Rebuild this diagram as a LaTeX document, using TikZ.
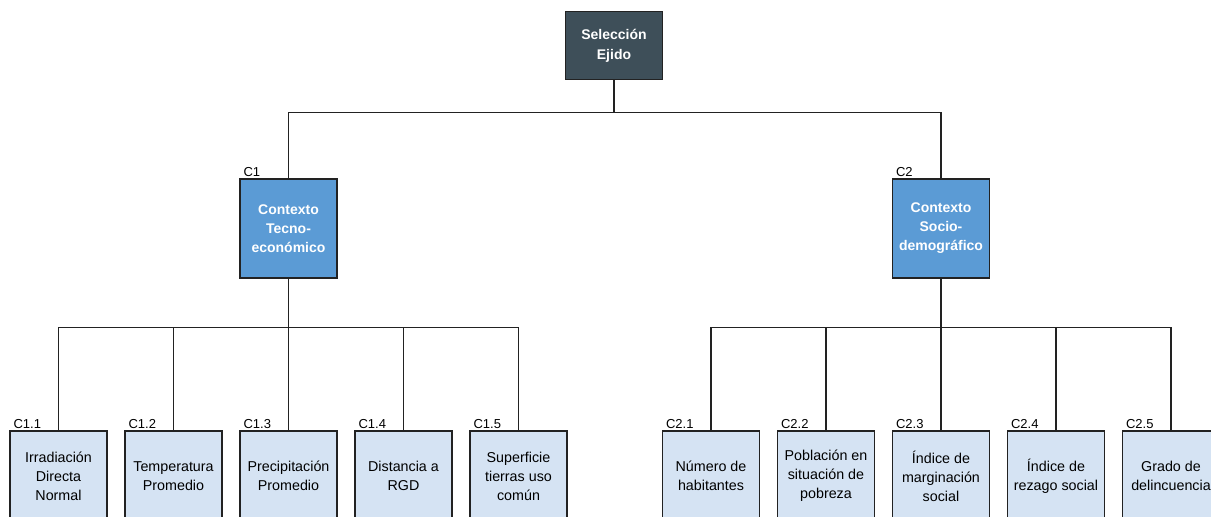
\documentclass[tikz,border=0pt]{standalone}
\usepackage{fontspec}
\setmainfont{Liberation Sans}
\usetikzlibrary{calc}
\definecolor{darkbox}{HTML}{3E4F59}
\definecolor{midbox}{HTML}{5B9BD5}
\definecolor{leafbox}{HTML}{D5E3F3}
\definecolor{linec}{HTML}{222222}
\tikzset{
  boxbase/.style={draw=linec, line width=1.3pt, align=center, inner sep=0pt, minimum width=97pt},
  rootbox/.style={boxbase, fill=darkbox, text=white, font=\fontsize{14}{20}\selectfont\bfseries, minimum height=68pt},
  midbx/.style={boxbase, fill=midbox, text=white, font=\fontsize{14}{19}\selectfont\bfseries, minimum height=99pt},
  leafbx/.style={boxbase, fill=leafbox, text=black, font=\fontsize{14.3}{19}\selectfont, minimum height=90pt},
  codelbl/.style={anchor=south west, inner sep=0pt, font=\fontsize{13}{15}\selectfont, text=black},
  conn/.style={draw=linec, line width=1.1pt}
}
\begin{document}
\begin{tikzpicture}[x=1pt,y=-1pt]
\useasboundingbox (0,0) rectangle (1211,517);
\clip (0,0) rectangle (1211,517);
\node[rootbox] (root) at (614,45.5) {Selección\\Ejido};
\node[midbx] (c1) at (288.5,228.5) {Contexto\\Tecno-\\económico};
\node[midbx] (c2) at (941,228.5) {Contexto\\Socio-\\demográfico};
\node[leafbx] (c11) at (58.5,476) {Irradiación\\Directa\\Normal};
\node[leafbx] (c12) at (173.5,476) {Temperatura\\Promedio};
\node[leafbx] (c13) at (288.5,476) {Precipitación\\Promedio};
\node[leafbx] (c14) at (403.5,476) {Distancia a\\RGD};
\node[leafbx] (c15) at (518.5,476) {Superficie\\tierras uso\\común};
\node[leafbx] (c21) at (711,476) {Número de\\habitantes};
\node[leafbx] (c22) at (826,476) {Población en\\situación de\\pobreza};
\node[leafbx] (c23) at (941,476) {Índice de\\marginación\\social};
\node[leafbx] (c24) at (1056,476) {Índice de\\rezago social};
\node[leafbx] (c25) at (1171,476) {Grado de\\delincuencia};
% code labels
\node[codelbl] (l1) at ($(c1.north west)+(4,-2)$) {C1};
\node[codelbl] (l2) at ($(c2.north west)+(4,-2)$) {C2};
\foreach \n/\t in {c11/C1.1,c12/C1.2,c13/C1.3,c14/C1.4,c15/C1.5,c21/C2.1,c22/C2.2,c23/C2.3,c24/C2.4,c25/C2.5}{
  \node[codelbl] (l\n) at ($(\n.north west)+(4,-2)$) {\t};
}
% connectors
\draw[conn] (root.south) -- ++(0,32.5) coordinate (rb) -| (c1.north);
\draw[conn] (rb) -| (c2.north);
\draw[conn] (c1.south) -- ++(0,49) coordinate (b1);
\foreach \n in {c11,c12,c13,c14,c15}{ \draw[conn] (b1) -| (\n.north); }
\draw[conn] (c2.south) -- ++(0,49) coordinate (b2);
\foreach \n in {c21,c22,c23,c24,c25}{ \draw[conn] (b2) -| (\n.north); }
\end{tikzpicture}
\end{document}
